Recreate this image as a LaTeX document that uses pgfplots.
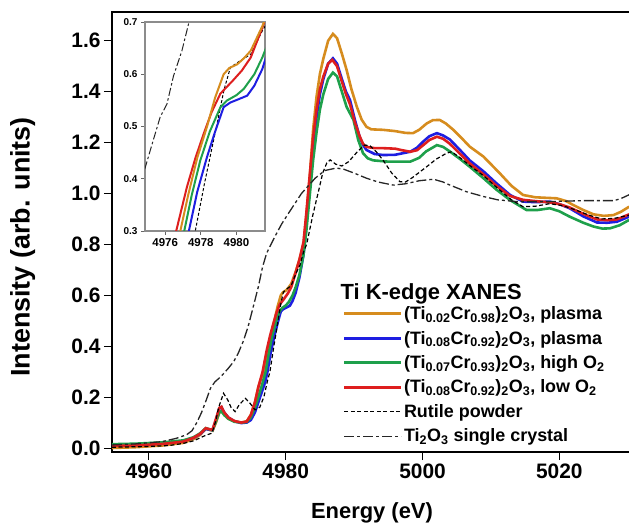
\documentclass[border=0pt]{standalone}
\usepackage{pgfplots}
\pgfplotsset{compat=1.18}
\usepackage{pgfplotstable}
\usepackage{fontspec}
\setmainfont{Liberation Sans}
\definecolor{corange}{RGB}{214,140,30}
\definecolor{cblue}{RGB}{30,30,225}
\definecolor{cgreen}{RGB}{30,160,75}
\definecolor{cred}{RGB}{222,30,30}
\newcommand{\sub}[1]{\textsubscript{#1}}

\pgfplotstableread{
x y
4954.6 0.000
4958 0.003
4962 0.010
4965 0.020
4966.5 0.035
4967.5 0.052
4968.3 0.075
4968.8 0.072
4969.3 0.068
4969.8 0.100
4970.3 0.140
4970.6 0.145
4971.0 0.130
4971.6 0.115
4972.5 0.105
4973.5 0.100
4974.3 0.105
4974.9 0.130
4975.5 0.180
4976.0 0.240
4976.5 0.280
4976.85 0.300
4977.3 0.370
4977.8 0.440
4978.35 0.500
4978.8 0.555
4979.28 0.600
4979.6 0.612
4980.04 0.619
4980.4 0.630
4980.8 0.645
4981.45 0.692
4982.0 0.740
4982.6 0.800
4983.0 0.910
4983.5 1.060
4984.0 1.250
4984.5 1.380
4985.0 1.470
4985.5 1.530
4986.2 1.600
4986.9 1.627
4987.5 1.610
4988.2 1.550
4988.9 1.485
4989.6 1.410
4990.4 1.340
4991.1 1.290
4991.8 1.262
4992.5 1.252
4994.25 1.250
4996 1.245
4997.5 1.238
4998.6 1.237
4999.5 1.250
5000.6 1.275
5001.5 1.288
5002.5 1.289
5003.4 1.275
5004.5 1.250
5005.8 1.215
5006.9 1.184
5008.9 1.145
5011.3 1.079
5013 1.030
5014.7 0.994
5016.5 0.985
5018 0.983
5019.6 0.981
5021 0.970
5022.0 0.955
5023.5 0.935
5025.0 0.918
5026.5 0.912
5027.9 0.915
5029 0.928
5030.2 0.948
}\torange

\pgfplotstableread{
x y
4954.6 0.010
4958 0.012
4962 0.018
4965 0.027
4966.5 0.040
4967.5 0.055
4968.3 0.075
4968.8 0.072
4969.3 0.070
4969.8 0.110
4970.3 0.155
4970.6 0.160
4971.0 0.140
4971.6 0.120
4972.5 0.105
4973.5 0.098
4974.3 0.100
4974.9 0.110
4975.5 0.140
4976.0 0.180
4976.5 0.220
4977.0 0.260
4977.33 0.300
4977.8 0.375
4978.35 0.442
4978.8 0.490
4979.28 0.537
4979.66 0.546
4980.1 0.552
4980.6 0.559
4981.0 0.578
4981.45 0.610
4982.0 0.670
4982.6 0.760
4983.0 0.870
4983.5 1.020
4984.0 1.180
4984.5 1.300
4985.0 1.390
4985.5 1.450
4986.2 1.510
4986.9 1.531
4987.5 1.510
4988.2 1.450
4988.8 1.400
4989.4 1.367
4990.1 1.290
4990.8 1.223
4991.3 1.190
4991.8 1.171
4993 1.155
4994.25 1.151
4996 1.152
4998.2 1.164
4999.2 1.180
5000.1 1.204
5001.0 1.225
5002.1 1.237
5003.0 1.228
5004.0 1.212
5005.5 1.170
5006.9 1.130
5008.9 1.087
5010.8 1.040
5012.8 0.994
5014.7 0.968
5016.5 0.966
5018.6 0.968
5020 0.958
5021.5 0.942
5023.5 0.910
5025.5 0.886
5027 0.885
5028.4 0.889
5030.2 0.909
}\tblue

\pgfplotstableread{
x y
4954.6 0.015
4958 0.017
4962 0.022
4965 0.030
4966.5 0.042
4967.5 0.058
4968.3 0.078
4968.8 0.074
4969.3 0.070
4969.8 0.105
4970.3 0.140
4970.6 0.145
4971.0 0.130
4971.6 0.115
4972.5 0.103
4973.5 0.100
4974.3 0.102
4974.9 0.120
4975.5 0.160
4976.0 0.200
4976.5 0.245
4977.07 0.300
4977.5 0.370
4977.97 0.435
4978.5 0.490
4979.1 0.537
4979.48 0.550
4980.0 0.560
4980.41 0.572
4981.0 0.600
4981.45 0.632
4982.0 0.680
4982.6 0.760
4983.0 0.850
4983.5 0.990
4984.0 1.130
4984.5 1.240
4985.0 1.330
4985.5 1.390
4986.2 1.450
4986.9 1.475
4987.5 1.460
4988.2 1.400
4988.9 1.340
4989.9 1.289
4990.6 1.210
4991.3 1.158
4992.0 1.138
4992.8 1.130
4995 1.125
4998.2 1.125
4999.5 1.140
5000.5 1.165
5002.1 1.190
5003 1.183
5004.0 1.165
5005.5 1.135
5006.9 1.105
5008.9 1.060
5010.8 1.015
5012.8 0.974
5015.2 0.935
5016.8 0.935
5018.6 0.942
5020 0.930
5021.5 0.909
5023.5 0.885
5025 0.870
5026.3 0.862
5027.4 0.863
5028.8 0.875
5030.2 0.896
}\tgreen

\pgfplotstableread{
x y
4954.6 0.008
4958 0.010
4962 0.016
4965 0.025
4966.5 0.040
4967.5 0.056
4968.3 0.078
4968.8 0.074
4969.3 0.072
4969.8 0.115
4970.3 0.158
4970.6 0.162
4971.0 0.140
4971.6 0.120
4972.5 0.106
4973.5 0.100
4974.3 0.104
4974.9 0.130
4975.5 0.180
4976.0 0.240
4976.62 0.300
4977.22 0.384
4977.7 0.440
4978.16 0.486
4978.6 0.527
4979.1 0.563
4979.8 0.588
4980.3 0.607
4980.8 0.632
4981.45 0.689
4982.0 0.740
4982.6 0.810
4983.0 0.920
4983.5 1.070
4984.0 1.220
4984.5 1.330
4985.0 1.410
4985.5 1.460
4986.2 1.510
4986.8 1.525
4987.5 1.500
4988.2 1.440
4988.8 1.390
4989.4 1.350
4990.1 1.280
4990.8 1.225
4991.3 1.195
4991.8 1.183
4993 1.178
4994.25 1.178
4996 1.176
4997 1.170
4998.2 1.164
4999.2 1.170
5000.1 1.190
5001.0 1.210
5002.1 1.223
5003.0 1.215
5004.0 1.195
5005.5 1.155
5006.9 1.118
5008.9 1.075
5010.8 1.030
5012.8 0.990
5014.7 0.975
5016.5 0.970
5018.6 0.965
5020 0.958
5021.5 0.945
5023.5 0.920
5025.5 0.898
5027 0.895
5028.4 0.898
5030.2 0.918
}\tred

\pgfplotstableread{
x y
4954.6 0.003
4960 0.006
4963 0.010
4965 0.018
4966.5 0.028
4967.5 0.040
4968.3 0.050
4969.2 0.058
4969.7 0.100
4970.2 0.160
4970.9 0.215
4971.5 0.190
4972.0 0.160
4972.6 0.143
4973.2 0.170
4974.1 0.195
4974.8 0.175
4975.5 0.150
4976.2 0.160
4976.8 0.200
4977.3 0.260
4977.69 0.300
4978.2 0.390
4978.91 0.505
4979.3 0.570
4979.66 0.613
4980.04 0.622
4980.4 0.630
4980.8 0.638
4981.45 0.683
4982.1 0.720
4982.6 0.770
4983.05 0.800
4984.0 0.920
4984.8 1.010
4985.4 1.080
4986.0 1.120
4986.5 1.132
4987.3 1.115
4988.2 1.108
4989.2 1.125
4990.5 1.165
4991.5 1.190
4992.3 1.188
4993.2 1.165
4994.25 1.130
4995.5 1.080
4996.7 1.046
4997.5 1.045
4998.5 1.062
5000.6 1.105
5002 1.135
5003.5 1.158
5004.25 1.164
5005.5 1.140
5006.9 1.110
5008.9 1.070
5011 1.020
5013 0.975
5014.7 0.948
5016.5 0.950
5018.6 0.960
5020.5 0.952
5022.4 0.935
5024.3 0.915
5026.2 0.900
5028 0.902
5030.2 0.915
}\trutile

\pgfplotstableread{
x y
4954.6 0.012
4958 0.016
4961.9 0.025
4964 0.038
4965.5 0.052
4966.3 0.068
4967.0 0.100
4967.7 0.140
4968.4 0.190
4969.0 0.235
4969.65 0.260
4970.5 0.280
4971.6 0.313
4972.4 0.340
4973.05 0.372
4973.8 0.420
4974.5 0.477
4975.3 0.560
4976.0 0.634
4976.6 0.710
4977.2 0.765
4978.4 0.830
4979.4 0.880
4980.4 0.922
4982.3 1.000
4984.3 1.060
4985.7 1.090
4987.4 1.100
4988.5 1.095
4990 1.080
4991.8 1.060
4993.5 1.045
4995.7 1.033
4997.5 1.038
4999.5 1.050
5001.6 1.056
5003 1.045
5004 1.033
5006.4 1.007
5008.9 0.988
5011 0.975
5013.8 0.968
5018.6 0.968
5023.5 0.972
5028 0.972
5029 0.980
5030.2 0.995
}\ttio

\pgfplotstableread{
x y
4974.6 0.390
4974.87 0.420
4975.3 0.470
4975.72 0.518
4976.1 0.543
4976.47 0.597
4976.94 0.645
4977.31 0.696
4977.5 0.730
}\ttioinset

\begin{document}
\begin{tikzpicture}
\useasboundingbox (-112bp,-75bp) rectangle (517bp,452bp);
\begin{axis}[
  at={(0,0)}, anchor=south west,
  scale only axis, width=520bp, height=440bp,
  xmin=4954.6, xmax=5030.62, ymin=-0.0157, ymax=1.713,
  xtick={4960,4980,5000,5020}, ytick={0,0.2,...,1.6},
  tick align=outside, xtick pos=lower, ytick pos=left,
  major tick length=8bp,
  axis line style={line width=1.4bp},
  every tick/.style={black, line width=1bp},
  /pgf/number format/assume math mode=true,
  /pgf/number format/set thousands separator={},
  yticklabel style={/pgf/number format/fixed, /pgf/number format/fixed zerofill, /pgf/number format/precision=1},
  tick label style={font=\fontsize{21}{25}\selectfont\bfseries},
  xlabel={Energy (eV)}, ylabel={Intensity (arb. units)},
  xlabel style={font=\fontsize{22}{26}\selectfont\bfseries, at={(axis description cs:0.5,-0.138)}, anchor=center},
  ylabel style={font=\fontsize{27}{31}\selectfont\bfseries, at={(axis description cs:-0.172,0.466)}, anchor=center},
  legend style={at={(0.438,0.339)}, anchor=north west, draw=none, fill=none,
    font=\fontsize{18}{21}\selectfont\bfseries, row sep=7bp,
    nodes={inner sep=1.5bp}},
  legend cell align=left,
  legend image code/.code={\draw[#1] (0bp,0bp) -- (57bp,0bp);},
]
\addplot[corange, line width=2.6bp] table {\torange};
\addlegendentry{(Ti\sub{0.02}Cr\sub{0.98})\sub{2}O\sub{3}, plasma}
\addplot[cblue, line width=2.6bp] table {\tblue};
\addlegendentry{(Ti\sub{0.08}Cr\sub{0.92})\sub{2}O\sub{3}, plasma}
\addplot[cgreen, line width=2.6bp] table {\tgreen};
\addlegendentry{(Ti\sub{0.07}Cr\sub{0.93})\sub{2}O\sub{3}, high O\sub{2}}
\addplot[cred, line width=2.6bp] table {\tred};
\addlegendentry{(Ti\sub{0.08}Cr\sub{0.92})\sub{2}O\sub{3}, low O\sub{2}}
\addplot[black, line width=1.2bp, dash pattern=on 4bp off 2.5bp] table {\trutile};
\addlegendentry{Rutile powder}
\addplot[black!85, line width=1.3bp, dash pattern=on 10bp off 3bp on 3bp off 3bp] table {\ttio};
\addlegendentry{Ti\sub{2}O\sub{3} single crystal}
\node[anchor=west, font=\fontsize{22}{26}\selectfont\bfseries, inner sep=0pt] at (axis cs:4988.0,0.607) {Ti K-edge XANES};
\end{axis}
\begin{axis}[
  at={(33bp,221bp)}, anchor=south west,
  scale only axis, width=120bp, height=209bp,
  xmin=4974.87, xmax=4981.6, ymin=0.3, ymax=0.7,
  xtick={4976,4978,4980}, ytick={0.3,0.4,...,0.7},
  tick align=outside, xtick pos=lower, ytick pos=left,
  major tick length=4bp,
  axis background/.style={fill=white},
  axis line style={black!45, line width=1.1bp},
  every tick/.style={black!60, line width=0.8bp},
  /pgf/number format/assume math mode=true,
  /pgf/number format/set thousands separator={},
  yticklabel style={/pgf/number format/fixed, /pgf/number format/fixed zerofill, /pgf/number format/precision=1, font=\fontsize{10}{12}\selectfont\bfseries},
  xticklabel style={font=\fontsize{11.5}{13}\selectfont\bfseries},
]
\addplot[black!85, line width=1bp, dash pattern=on 8bp off 2.5bp on 2.5bp off 2.5bp] table {\ttioinset};
\addplot[black, line width=1bp, dash pattern=on 3bp off 2bp] table {\trutile};
\addplot[cred, line width=2bp] table {\tred};
\addplot[cgreen, line width=2bp] table {\tgreen};
\addplot[cblue, line width=2bp] table {\tblue};
\addplot[corange, line width=2bp] table {\torange};
\end{axis}
\end{tikzpicture}
\end{document}
